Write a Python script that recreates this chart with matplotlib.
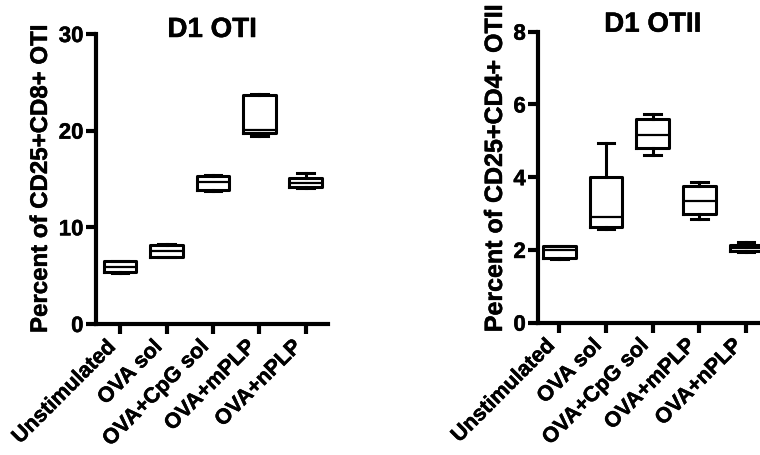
import matplotlib
matplotlib.use("Agg")
import matplotlib.pyplot as plt
import matplotlib.patheffects as pe

plt.rcParams['font.family'] = ['Liberation Sans', 'DejaVu Sans']
plt.rcParams['font.weight'] = 'bold'

categories = ["Unstimulated", "OVA sol", "OVA+CpG sol", "OVA+mPLP", "OVA+nPLP"]

# D1 OTI box statistics
oti_whislo = [5.30, 6.90, 13.80, 19.40, 14.10]
oti_q1 = [5.33, 6.95, 13.86, 19.75, 14.17]
oti_med = [5.90, 7.58, 14.72, 20.05, 14.55]
oti_q3 = [6.47, 8.19, 15.26, 23.74, 15.15]
oti_whishi = [6.55, 8.25, 15.40, 23.80, 15.67]

# D1 OTII box statistics
otii_whislo = [1.75, 2.58, 4.61, 2.86, 1.93]
otii_q1 = [1.78, 2.63, 4.79, 3.00, 1.96]
otii_med = [2.00, 2.90, 5.16, 3.35, 2.04]
otii_q3 = [2.10, 4.00, 5.59, 3.76, 2.13]
otii_whishi = [2.12, 4.93, 5.73, 3.87, 2.22]

oti_yticks = [0, 10, 20, 30]
otii_yticks = [0, 2, 4, 6, 8]

heavy = [pe.withStroke(linewidth=0.35, foreground='black')]


def make_stats(lo, q1, med, q3, hi):
    return [dict(whislo=a, q1=b, med=c, q3=d, whishi=e, fliers=[])
            for a, b, c, d, e in zip(lo, q1, med, q3, hi)]


fig = plt.figure(figsize=(7.6, 4.55), dpi=100)

ax1 = fig.add_axes([96 / 760, 131 / 455, 232 / 760, 290 / 455])
ax2 = fig.add_axes([538.3 / 760, 132.3 / 455, 228.7 / 760, 291 / 455])


def style(ax, stats, yticks, ylim, xlim, title, ylabel, ylabel_x, ylabel_y,
          ylabel_size, title_dy):
    positions = list(range(1, len(categories) + 1))
    ax.bxp(stats, positions=positions, widths=0.7, capwidths=0.36,
           showfliers=False, patch_artist=False,
           boxprops=dict(color='black', linewidth=2.2),
           whiskerprops=dict(color='black', linewidth=2.2),
           capprops=dict(color='black', linewidth=2.2),
           medianprops=dict(color='black', linewidth=1.6))
    ax.set_ylim(*ylim)
    ax.set_xlim(*xlim)
    ax.set_yticks(yticks)
    ax.set_yticklabels([str(t) for t in yticks], fontsize=16, fontweight='bold')
    ax.set_xticks(positions)
    ax.set_xticklabels(categories, rotation=45, ha='right', fontsize=15.5,
                       fontweight='bold')
    for s in ['top', 'right']:
        ax.spines[s].set_visible(False)
    for s in ['left', 'bottom']:
        ax.spines[s].set_linewidth(3)
    ax.tick_params(axis='both', width=3, length=7.5, direction='out', pad=1.5)
    ax.set_ylabel(ylabel, fontsize=ylabel_size, fontweight='bold')
    ax.yaxis.set_label_coords(ylabel_x, ylabel_y)
    t = ax.text(0.5, 1.0 - title_dy, title, transform=ax.transAxes,
                ha='center', va='baseline', fontsize=20, fontweight='bold')
    for txt in ax.get_xticklabels() + ax.get_yticklabels() + [ax.yaxis.label, t]:
        txt.set_path_effects(heavy)


style(ax1, make_stats(oti_whislo, oti_q1, oti_med, oti_q3, oti_whishi),
      oti_yticks, (0, 30), (0.48, 5.48), "D1 OTI",
      "Percent of CD25+CD8+ OTI", -0.19, 0.5, 17.3, 3 / 290)
style(ax2, make_stats(otii_whislo, otii_q1, otii_med, otii_q3, otii_whishi),
      otii_yticks, (0, 8), (0.55, 5.45), "D1 OTII",
      "Percent of CD25+CD4+ OTII", -0.137, 0.53, 18, 0.0)

fig.savefig("out.png", dpi=100)
